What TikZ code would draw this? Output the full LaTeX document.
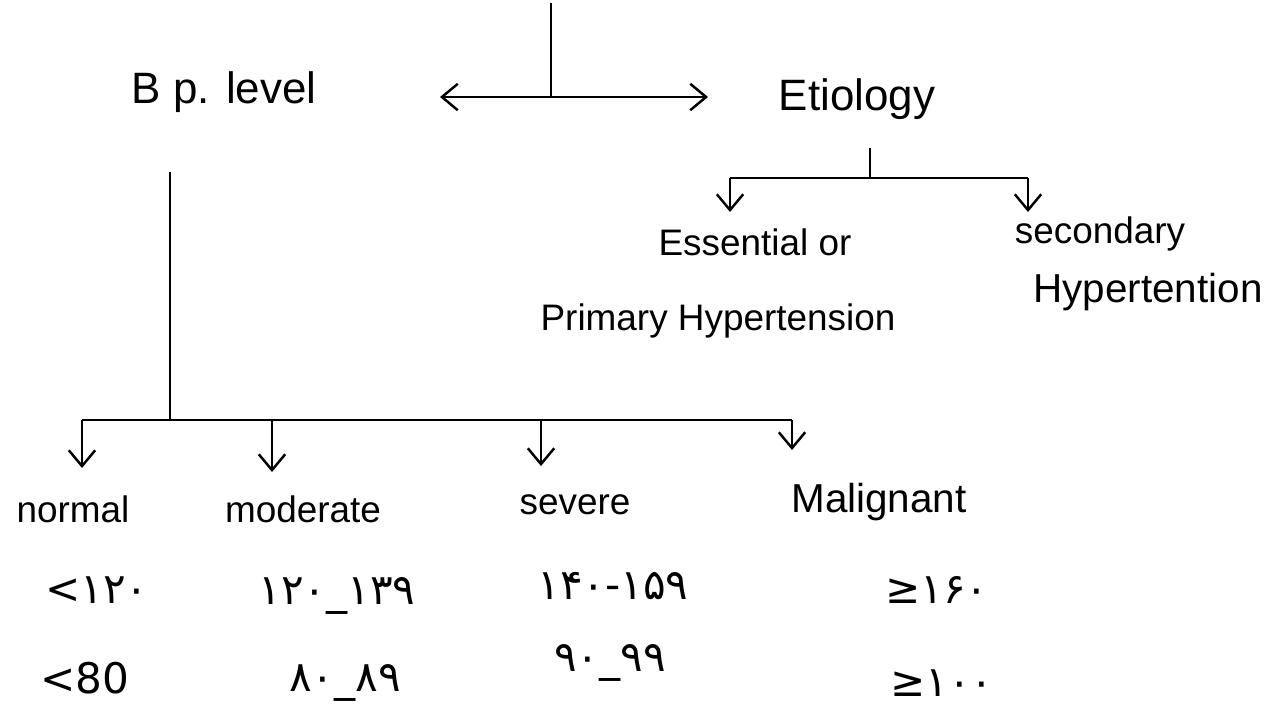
\documentclass[tikz,border=0pt]{standalone}
\usepackage{fontspec}
\setmainfont{Liberation Sans}
\newfontfamily\fanum{DejaVu Sans}
\usetikzlibrary{arrows.meta, positioning}

\begin{document}
\begin{tikzpicture}[x=0.02cm, y=-0.02cm,
    head/.style={font=\fontsize{25}{30}\selectfont, inner sep=1pt, anchor=base},
    term/.style={font=\fontsize{21}{25}\selectfont, inner sep=1pt, anchor=base},
    num/.style={font=\fanum\fontsize{24}{28}\selectfont, inner sep=1pt},
    arr/.style={-{Straight Barb[length=9pt, width=15pt]}},
    every edge/.style={draw, line width=1.4pt}
]
\useasboundingbox (0,0) rectangle (1279,707);

% Headings
\node[head] (bp) at (224, 103) {B p. level};
\node[head] (etio) at (857, 110) {Etiology};

% Etiology classes
\node[term] (essential) at (755, 255) {Essential or};
\node[term] (primary) at (718, 330) {Primary Hypertension};
\node[term] (secondary) at (1100, 243) {secondary};
\node[term, font=\fontsize{23}{27}\selectfont] (hyper2) at (1148, 302) {Hypertention};

% Blood pressure classes
\node[term] (normal) at (73, 522) {normal};
\node[term] (moderate) at (303, 522) {moderate};
\node[term] (severe) at (575, 514) {severe};
\node[term, font=\fontsize{23}{27}\selectfont] (malignant) at (879, 512) {Malignant};

% Systolic values
\node[num] (sysNormal) at (97, 590) {<۱۲۰};
\node[num] (sysModerate) at (337, 596) {۱۲۰\_۱۳۹};
\node[num] (sysSevere) at (613, 586) {۱۴۰-۱۵۹};
\node[num] (sysMalignant) at (937, 590) {≥۱۶۰};

% Diastolic values
\node[num] (diaNormal) at (85, 678) {<80};
\node[num] (diaModerate) at (345, 683) {۸۰\_۸۹};
\node[num] (diaSevere) at (610, 663) {۹۰\_۹۹};
\node[num] (diaMalignant) at (942, 683) {≥۱۰۰};

% Top connector
\coordinate (top) at (551, 3);
\coordinate (hub) at (551, 97);
\coordinate (hubL) at (440, 97);
\coordinate (hubR) at (708, 97);
\path (top) edge (hub);
\path (hub) edge[arr] (hubL);
\path (hub) edge[arr] (hubR);

% Etiology branches
\coordinate (etioTop) at (870, 148);
\coordinate (etioFork) at (870, 178);
\coordinate (fEssential) at (730, 178);
\coordinate (fSecondary) at (1028, 178);
\coordinate (tEssential) at (730, 212);
\coordinate (tSecondary) at (1028, 212);
\path (etioTop) edge (etioFork);
\path (fEssential) edge (fSecondary);
\path (fEssential) edge[arr] (tEssential);
\path (fSecondary) edge[arr] (tSecondary);

% B p. level branches
\coordinate (bpTop) at (170, 172);
\coordinate (bpFork) at (170, 420);
\coordinate (fNormal) at (82, 420);
\coordinate (fModerate) at (272, 420);
\coordinate (fSevere) at (541, 420);
\coordinate (fMalignant) at (792, 420);
\coordinate (tNormal) at (82, 468);
\coordinate (tModerate) at (272, 472);
\coordinate (tSevere) at (541, 466);
\coordinate (tMalignant) at (792, 450);
\path (bpTop) edge (bpFork);
\path (fNormal) edge (fMalignant);
\path (fNormal) edge[arr] (tNormal);
\path (fModerate) edge[arr] (tModerate);
\path (fSevere) edge[arr] (tSevere);
\path (fMalignant) edge[arr] (tMalignant);

\end{tikzpicture}
\end{document}
